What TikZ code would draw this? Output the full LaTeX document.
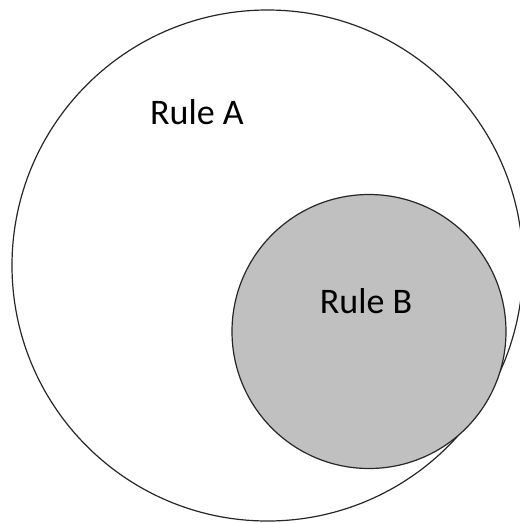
\documentclass[tikz,border=0pt]{standalone}
\usepackage{fontspec}
\setmainfont{Carlito}
\begin{document}
\begin{tikzpicture}[x=1pt,y=-1pt,
  ring/.style={draw=black!85, line width=1.2pt},
  lbl/.style={anchor=base, font=\fontsize{36}{40}\selectfont, text=black, inner sep=0pt}]
\useasboundingbox (0,0) rectangle (520,523);
\node[ring, circle, minimum size=511pt, inner sep=0pt] (A) at (267.5,265.5) {};
\node[ring, circle, fill={rgb,255:red,192;green,192;blue,192}, minimum size=274pt, inner sep=0pt] (B) at (369,331.5) {};
\node[lbl] (la) at (197,124) {Rule A};
\node[lbl] (lb) at (366,313) {Rule B};
\end{tikzpicture}
\end{document}
